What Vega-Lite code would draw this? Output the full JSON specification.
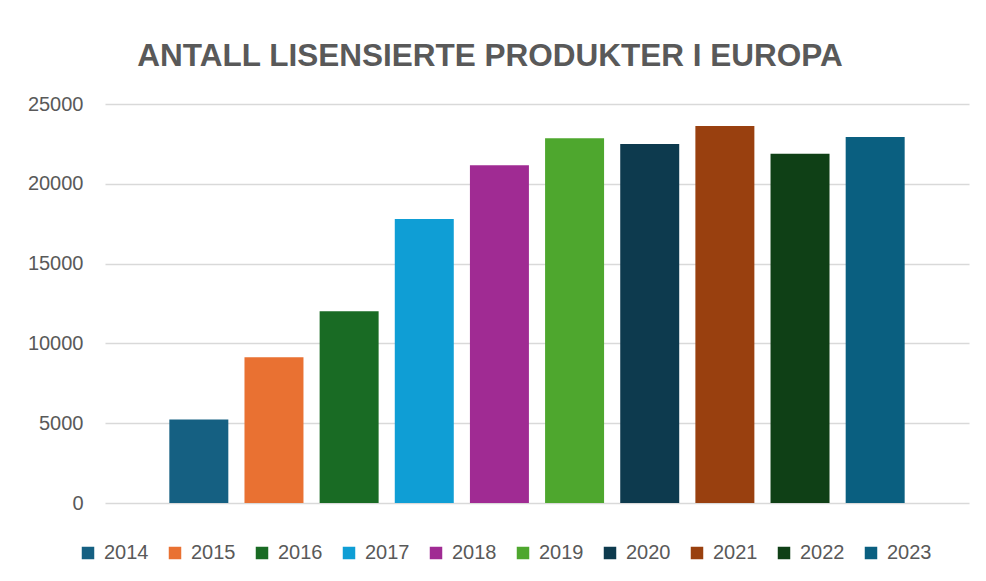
{
  "$schema": "https://vega.github.io/schema/vega-lite/v6.json",
  "width": 864,
  "height": 399,
  "autosize": {"type": "none"},
  "padding": {"left": 105, "top": 104, "right": 17, "bottom": 78},
  "background": "#ffffff",
  "config": {"view": {"stroke": null}},
  "title": {
    "text": "ANTALL LISENSIERTE PRODUKTER I EUROPA",
    "font": "Liberation Sans",
    "fontSize": 31.5,
    "fontWeight": "bold",
    "color": "#595959",
    "anchor": "middle",
    "dx": -47,
    "offset": 22
  },
  "data": {
    "values": [
      {"year": "2014", "antall": 5230},
      {"year": "2015", "antall": 9135},
      {"year": "2016", "antall": 12020},
      {"year": "2017", "antall": 17790},
      {"year": "2018", "antall": 21170},
      {"year": "2019", "antall": 22850},
      {"year": "2020", "antall": 22490},
      {"year": "2021", "antall": 23620},
      {"year": "2022", "antall": 21880},
      {"year": "2023", "antall": 22930}
    ]
  },
  "mark": {"type": "bar"},
  "encoding": {
    "x": {
      "field": "year",
      "type": "nominal",
      "axis": null,
      "scale": {"paddingInner": 0.215, "paddingOuter": 0.856}
    },
    "y": {
      "field": "antall",
      "type": "quantitative",
      "scale": {"domain": [0, 25000], "nice": false},
      "axis": {
        "title": null,
        "values": [0, 5000, 10000, 15000, 20000, 25000],
        "format": "d",
        "domain": false,
        "ticks": false,
        "labelPadding": 22,
        "labelFont": "Liberation Sans",
        "labelFontSize": 20,
        "labelColor": "#595959",
        "gridColor": "#d9d9d9",
        "gridWidth": 1.5
      }
    },
    "color": {
      "field": "year",
      "type": "nominal",
      "scale": {
        "domain": ["2014", "2015", "2016", "2017", "2018", "2019", "2020", "2021", "2022", "2023"],
        "range": ["#156082", "#E97132", "#196B24", "#0F9ED5", "#A02B93", "#4EA72E", "#0D3A4E", "#99400F", "#0F4016", "#0A5F80"]
      },
      "legend": {
        "title": null,
        "orient": "none",
        "direction": "horizontal",
        "legendX": -27,
        "legendY": 439,
        "padding": 0,
        "symbolType": "square",
        "symbolSize": 156,
        "symbolStrokeWidth": 0,
        "labelFont": "Liberation Sans",
        "labelFontSize": 20,
        "labelColor": "#595959",
        "labelOffset": 6,
        "columnPadding": 16
      }
    }
  }
}
